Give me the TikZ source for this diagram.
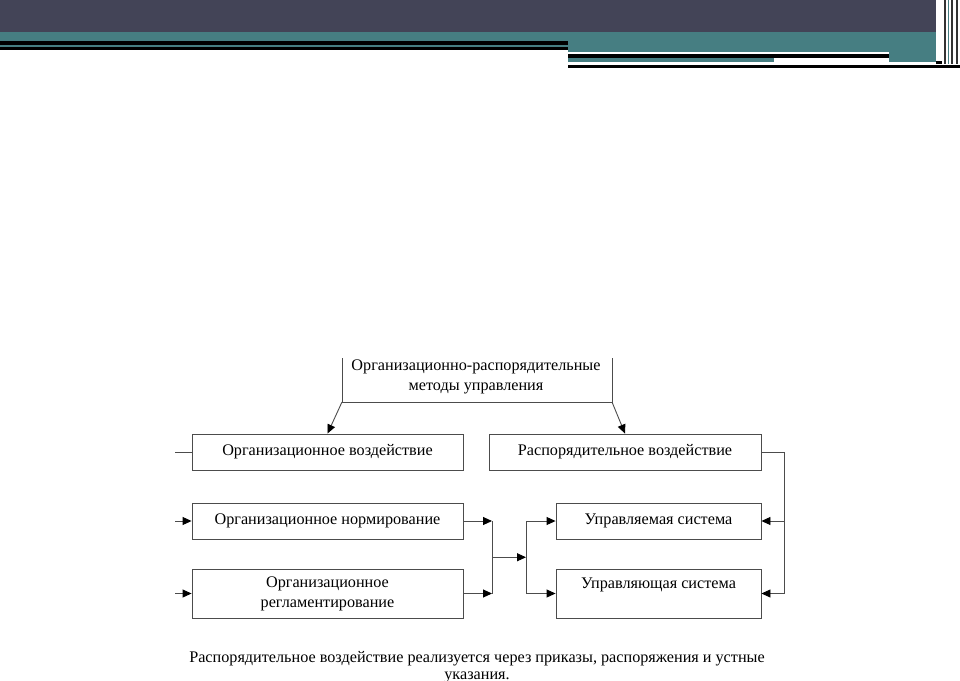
\documentclass[tikz,border=0pt]{standalone}
\usepackage{fontspec}
\setmainfont{Liberation Serif}
\usetikzlibrary{arrows.meta}
\definecolor{hdark}{RGB}{67,68,87}
\definecolor{hteal}{RGB}{70,126,130}
\tikzset{
	line/.style={draw=black!70, line width=0.9pt},
	arr/.style={line, -{Triangle[length=9pt,width=8pt,color=black]}},
	box/.style={line, inner sep=0pt, minimum height=36, font=\fontsize{16.2}{20}\selectfont, align=center},
}
\begin{document}
\begin{tikzpicture}[x=1pt, y=-1pt]
		\useasboundingbox (0,0) rectangle (960,680);
		
		% header bands
		\fill [hdark] (0,0) rectangle (936,32);
		\fill [hteal] (0,32) rectangle (568,41);
		\fill [black] (0,41) rectangle (568,44.5);
		\fill [hteal] (0,44.5) rectangle (568,46.5);
		\fill [black] (0,46.5) rectangle (568,50);
		\fill [hteal] (568,32) rectangle (936,52);
		\fill [hteal] (889,52) rectangle (936,62);
		\fill [black] (568,54) rectangle (889,57.5);
		\fill [hteal] (568,57.5) rectangle (774,62);
		\fill [black] (936,61) rectangle (942,64);
		\fill [black] (568,64.5) rectangle (960,67.5);
		\draw [black!80, line width=1.2pt] (945,0) -- (945,64);
		\draw [hteal, line width=1.2pt] (948.5,0) -- (948.5,64);
		\draw [black!80, line width=1.2pt] (952,0) -- (952,64);
		\draw [black!80, line width=1.2pt] (957,0) -- (957,64);
		
		% diagram
		\draw [line] (342,358) -- (342,402) -- (612,402) -- (612,358);
		\node [font=\fontsize{16.2}{20}\selectfont, align=center] (meth) at (476,377) {Организационно-распорядительные\\методы управления};
		\coordinate (mBL) at (342,402);
		\coordinate (mBR) at (612,402);
		
		\node [box, minimum width=271] (orgv) at (327.5,452) {Организационное воздействие};
		\node [box, minimum width=272] (rasp) at (625,452) {Распорядительное воздействие};
		\node [box, minimum width=271] (norm) at (327.5,521) {Организационное нормирование};
		\node [box, minimum width=271, minimum height=49] (regl) at (327.5,593.5) {Организационное\\регламентирование};
		\node [box, minimum width=205] (upr1) at (658.5,521) {Управляемая система};
		\node [box, minimum width=205, minimum height=49] (upr2) at (658.5,593.5) {Управляющая система\\\mbox{}};
		
		\draw [arr] (mBL) -- (orgv.north);
		\draw [arr] (mBR) -- (rasp.north);
		
		\coordinate (inx) at (175,0);
		\draw [line] (orgv.west -| inx) -- (orgv.west);
		\draw [arr] (norm.west -| inx) -- (norm.west);
		\draw [arr] (regl.west -| inx) -- (regl.west);
		
		\coordinate (jL) at (492,557.25);
		\coordinate (jR) at (526,557.25);
		\draw [arr] (norm.east) -- (norm.east -| jL);
		\draw [arr] (regl.east) -- (regl.east -| jL);
		\draw [line] (norm.east -| jL) -- (regl.east -| jL);
		\draw [arr] (jL) -- (jR);
		\draw [line] (upr1.west -| jR) -- (upr2.west -| jR);
		\draw [arr] (upr1.west -| jR) -- (upr1.west);
		\draw [arr] (upr2.west -| jR) -- (upr2.west);
		
		\coordinate (fb) at (784,0);
		\draw [arr] (rasp.east) -- (rasp.east -| fb) |- (upr2.east);
		\draw [arr] (upr1.east -| fb) -- (upr1.east);
		
		\node [font=\fontsize{16.2}{17}\selectfont, align=center] (capt) at (477,667) {Распорядительное воздействие реализуется через приказы, распоряжения и устные\\указания.};
	\end{tikzpicture}
\end{document}
